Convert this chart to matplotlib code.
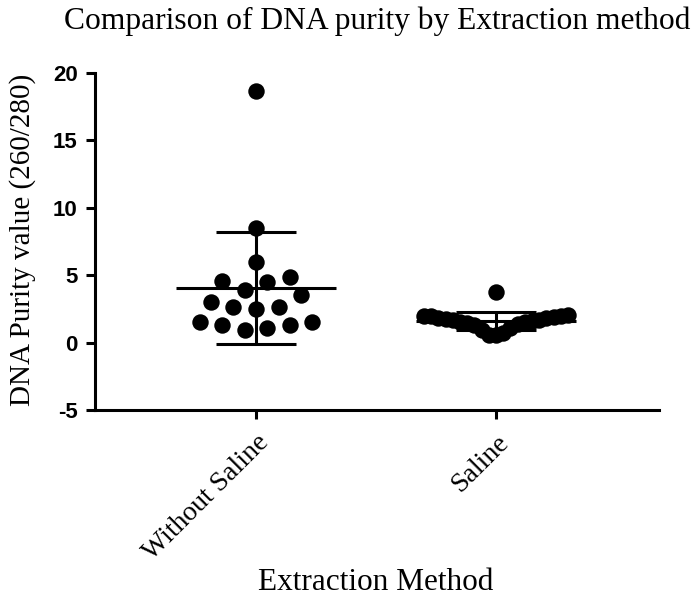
import numpy as np
import matplotlib
matplotlib.use('Agg')
import matplotlib.pyplot as plt

categories = ['Without Saline', 'Saline']
without_saline = [18.66, 8.53, 6.0, 4.6, 4.5, 4.9, 3.9, 3.55, 3.0, 2.65, 2.5,
                  2.65, 1.5, 1.27, 0.95, 1.1, 1.3, 1.55]
saline = [0.55, 0.6, 0.7, 0.9, 1.1, 1.3, 1.4, 1.45, 1.5, 1.55, 1.6, 1.65, 1.7,
          1.75, 1.8, 1.85, 1.9, 1.95, 1.95, 2.0, 2.05, 3.75]
yticks = [-5, 0, 5, 10, 15, 20]

title = 'Comparison of DNA purity by Extraction method'
xlabel = 'Extraction Method'
ylabel = 'DNA Purity value (260/280)'


def swarm_offsets(values, base, bin_w, spacing, max_half):
    v = np.asarray(values, dtype=float)
    bins = np.floor((v - base) / bin_w).astype(int)
    offs = np.zeros(len(v))
    for b in np.unique(bins):
        idx = np.where(bins == b)[0]
        idx = idx[np.argsort(v[idx], kind='stable')]
        n = len(idx)
        if n == 1:
            continue
        s = min(spacing, 2 * max_half / (n - 1))
        slots = (np.arange(n) - (n - 1) / 2) * s
        order = sorted(range(n), key=lambda k: (abs(slots[k]), slots[k] > 0))
        for i, k in zip(idx, order):
            offs[i] = slots[k]
    return offs


fig = plt.figure(figsize=(6.93, 5.97), dpi=100)
ax = fig.add_axes([95 / 693, 1 - 410 / 597, (659 - 95) / 693, (410 - 73) / 597])

groups = [without_saline, saline]
params = [(0.8, 1.4, 0.094, 0.33), (0.5, 1.6, 0.094, 0.30)]
for i, (vals, p) in enumerate(zip(groups, params)):
    offs = swarm_offsets(vals, *p)
    ax.scatter(i + offs, vals, s=140, color='black', zorder=3, linewidths=0)
    m = np.mean(vals)
    sd = np.std(vals, ddof=1)
    ax.hlines(m, i - 0.333, i + 0.333, color='black', lw=2.2, zorder=4)
    ax.hlines([m - sd, m + sd], i - 0.167, i + 0.167, color='black', lw=2.2, zorder=4)
    ax.vlines(i, m - sd, m + sd, color='black', lw=2.2, zorder=4)

ax.set_xlim(-0.671, 1.679)
ax.set_ylim(-5, 20)
ax.set_yticks(yticks)
ax.set_yticklabels([str(t) for t in yticks], fontfamily='Liberation Sans',
                   fontweight='bold', fontsize=16)
ax.set_xticks(range(len(categories)))
ax.set_xticklabels(categories, fontfamily='Liberation Serif', fontsize=20,
                   rotation=45, ha='right', va='top', rotation_mode='anchor')
for sp in ['top', 'right']:
    ax.spines[sp].set_visible(False)
for sp in ['left', 'bottom']:
    ax.spines[sp].set_linewidth(2.2)
ax.tick_params(axis='both', width=2.2, length=6.5, color='black')
ax.tick_params(axis='y', pad=6)
ax.tick_params(axis='x', pad=8)

fig.text(23 / 693, 1 - 240 / 597, ylabel, fontfamily='Liberation Serif',
         fontsize=21, rotation=90, ha='center', va='center')
fig.text(376 / 693, 1 - 582 / 597, xlabel, fontfamily='Liberation Serif',
         fontsize=22.5, ha='center', va='center')
fig.text(377 / 693, 1 - 21 / 597, title, fontfamily='Liberation Serif',
         fontsize=22.7, ha='center', va='center')

fig.savefig('out.png', dpi=100)
